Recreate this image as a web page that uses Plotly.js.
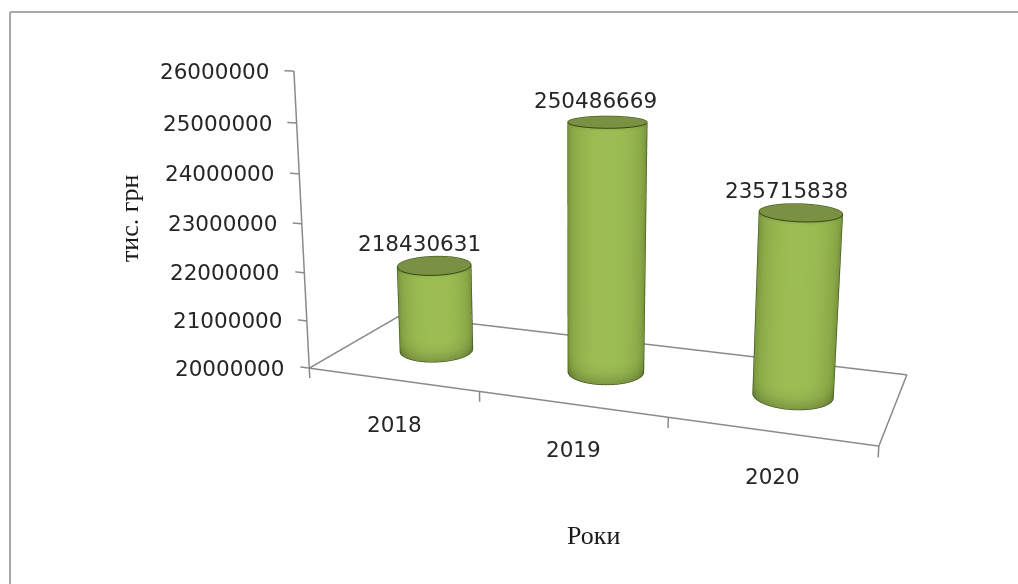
<!DOCTYPE html>
<html><head><meta charset="utf-8"><script src="https://cdn.plot.ly/plotly-3.0.1.min.js"></script>
<style>
html,body{margin:0;background:#fff;overflow:hidden}
#frame{position:absolute;left:0;top:0;width:1018px;height:584px;overflow:hidden}
#chart{position:absolute;left:-126px;top:-298px;width:1400px;height:1085px}
</style></head>
<body><div id="frame"><div id="chart"></div></div>
<script>
// Chart data
const categories = ['2018', '2019', '2020'];
const barLabels = ['218430631', '250486669', '235715838'];
const barValues = [21843063.1, 25048666.9, 23571583.8];
const axisTicks = [20000000, 21000000, 22000000, 23000000, 24000000, 25000000, 26000000];
const yTitle = 'тис. грн';
const xTitle = 'Роки';

// Perspective view of the scene; the plot is larger than the page so that
// the fixed field of view of the 3D camera gives a flatter projection.
const plotW = 1400, plotH = 1085, offsetX = 126, offsetY = 298;
const eye = {x: 0.6932, y: -1.9116, z: 0.4872};
const center = {x: 0.0044, y: -0.0974, z: 0.0032};
const aspect = {x: 1, y: 0.3284, z: 0.5281};
const xRange = [-0.2, 3.05], yRange = [-0.02, 1.02], zRange = [19600000, 26100000];
const floorZ = axisTicks[0], topZ = axisTicks[axisTicks.length - 1];

const radiusX = 0.2, radiusY = 0.198;
const segments = 64;
const sideLight = [157, 189, 84], sideDark = [92, 118, 40], capColor = 'rgb(122,144,66)', edgeColor = '#33480f';

const worldX = v => (v - (xRange[0] + xRange[1]) / 2) / (xRange[1] - xRange[0]) * aspect.x;
const worldY = v => (v - (yRange[0] + yRange[1]) / 2) / (yRange[1] - yRange[0]) * aspect.y;

function shade(t, factor) {
  const k = Math.pow(Math.max(0, t), 0.55);
  const c = sideLight.map((l, i) => Math.round((sideDark[i] + (l - sideDark[i]) * k) * factor));
  return `rgb(${c[0]},${c[1]},${c[2]})`;
}

// One cylinder: a shaded side wall, a flat cap and its dark outline
function cylinder(index, value) {
  const cx = index + 0.5, cy = 0.5;
  const facing = Math.atan2(eye.y - worldY(cy), eye.x - worldX(cx));
  const rings = [[floorZ, 0.8], [floorZ + 90000, 0.87], [floorZ + 220000, 0.95], [floorZ + 420000, 1], [value - 70000, 1], [value, 0.94]];
  const xs = [], ys = [], zs = [], colors = [], I = [], J = [], K = [];
  rings.forEach(([z, factor]) => {
    for (let s = 0; s < segments; s++) {
      const a = 2 * Math.PI * s / segments;
      xs.push(cx + radiusX * Math.cos(a));
      ys.push(cy + radiusY * Math.sin(a));
      zs.push(z);
      colors.push(shade(Math.cos(a - facing), factor));
    }
  });
  for (let r = 0; r < rings.length - 1; r++) {
    for (let s = 0; s < segments; s++) {
      const a = r * segments + s, b = r * segments + (s + 1) % segments;
      const c = a + segments, d = b + segments;
      I.push(a, b); J.push(b, d); K.push(c, c);
    }
  }
  const capStart = xs.length;
  for (let s = 0; s < segments; s++) {
    const a = 2 * Math.PI * s / segments;
    xs.push(cx + radiusX * Math.cos(a));
    ys.push(cy + radiusY * Math.sin(a));
    zs.push(value);
    colors.push(capColor);
  }
  xs.push(cx); ys.push(cy); zs.push(value); colors.push(capColor);
  for (let s = 0; s < segments; s++) {
    I.push(capStart + s); J.push(capStart + (s + 1) % segments); K.push(capStart + segments);
  }
  const side = {
    type: 'mesh3d', x: xs, y: ys, z: zs, i: I, j: J, k: K, vertexcolor: colors,
    flatshading: false, hoverinfo: 'skip',
    lighting: {ambient: 1, diffuse: 0, specular: 0, roughness: 1, fresnel: 0}
  };
  const ox = [], oy = [], oz = [];
  for (let s = 0; s <= segments; s++) {
    const a = 2 * Math.PI * s / segments;
    ox.push(cx + radiusX * Math.cos(a)); oy.push(cy + radiusY * Math.sin(a)); oz.push(value);
  }
  ox.push(null); oy.push(null); oz.push(null);
  for (let s = 0; s <= segments / 2; s++) {
    const a = facing - Math.PI / 2 + 2 * Math.PI * s / segments;
    ox.push(cx + radiusX * Math.cos(a)); oy.push(cy + radiusY * Math.sin(a)); oz.push(floorZ);
  }
  [-1, 1].forEach(sign => {
    const a = facing + sign * Math.PI / 2;
    ox.push(null, cx + radiusX * Math.cos(a), cx + radiusX * Math.cos(a));
    oy.push(null, cy + radiusY * Math.sin(a), cy + radiusY * Math.sin(a));
    oz.push(null, floorZ, value);
  });
  const outline = {
    type: 'scatter3d', mode: 'lines', x: ox, y: oy, z: oz, hoverinfo: 'skip',
    line: {color: edgeColor, width: 2}, connectgaps: false
  };
  return [side, outline];
}

// Floor outline, vertical axis and tick marks
const ax = [0, 3, 3, 0, 0, null, 0, 0], ay = [0, 0, 1, 1, 0, null, 0, 0], az = [floorZ, floorZ, floorZ, floorZ, floorZ, null, floorZ, topZ];
axisTicks.forEach(v => { ax.push(null, -0.055, 0); ay.push(null, 0, 0); az.push(null, v, v); });
[0, 1, 2, 3].forEach(c => { ax.push(null, c, c); ay.push(null, 0, 0); az.push(null, floorZ, floorZ - 210000); });
const axesTrace = {
  type: 'scatter3d', mode: 'lines', x: ax, y: ay, z: az, hoverinfo: 'skip',
  line: {color: '#8a8a8a', width: 3}, connectgaps: false
};

const labelFont = {family: 'DejaVu Sans', size: 21.5, color: '#262626'};
const titleFont = {family: 'Liberation Serif', size: 26, color: '#1a1a1a'};
const barLabelShift = [-15, -12, -14];
const note = (x, y, z, text, extra) => Object.assign({x, y, z, text, showarrow: false, font: labelFont}, extra);
const sceneNotes = [
  ...axisTicks.map(v => note(0, 0, v, String(v), {xanchor: 'right', xshift: -23, yshift: 0})),
  ...categories.map((c, i) => note(i + 0.5, 0, floorZ, c, {xshift: 2, yshift: -45})),
  ...barLabels.map((t, i) => note(i + 0.5, 0.5, barValues[i], t, {xshift: barLabelShift[i], yshift: 22}))
];

const pageX = v => (v + offsetX) / plotW;
const pageY = v => 1 - (v + offsetY) / plotH;

const traces = [axesTrace, ...barValues.flatMap((v, i) => cylinder(i, v))];
const layout = {
  width: plotW, height: plotH, margin: {l: 0, r: 0, t: 0, b: 0}, showlegend: false,
  paper_bgcolor: 'rgba(0,0,0,0)', hovermode: false,
  scene: {
    domain: {x: [0, 1], y: [0, 1]}, aspectmode: 'manual', aspectratio: aspect,
    camera: {eye, center, up: {x: 0, y: 0, z: 1}},
    xaxis: {range: xRange, visible: false}, yaxis: {range: yRange, visible: false}, zaxis: {range: zRange, visible: false},
    annotations: sceneNotes
  },
  annotations: [
    {xref: 'paper', yref: 'paper', x: pageX(129), y: pageY(219), xanchor: 'center', yanchor: 'middle', text: yTitle, textangle: -90, showarrow: false, font: titleFont},
    {xref: 'paper', yref: 'paper', x: pageX(593), y: pageY(535), xanchor: 'center', yanchor: 'middle', text: xTitle, showarrow: false, font: titleFont}
  ],
  shapes: [
    {type: 'line', xref: 'paper', yref: 'paper', x0: pageX(10), y0: pageY(12), x1: pageX(1018), y1: pageY(12), line: {color: '#a8a8a8', width: 2}},
    {type: 'line', xref: 'paper', yref: 'paper', x0: pageX(10), y0: pageY(12), x1: pageX(10), y1: pageY(584), line: {color: '#a8a8a8', width: 2}}
  ]
};
Plotly.newPlot('chart', traces, layout, {displayModeBar: false});
</script></body></html>
